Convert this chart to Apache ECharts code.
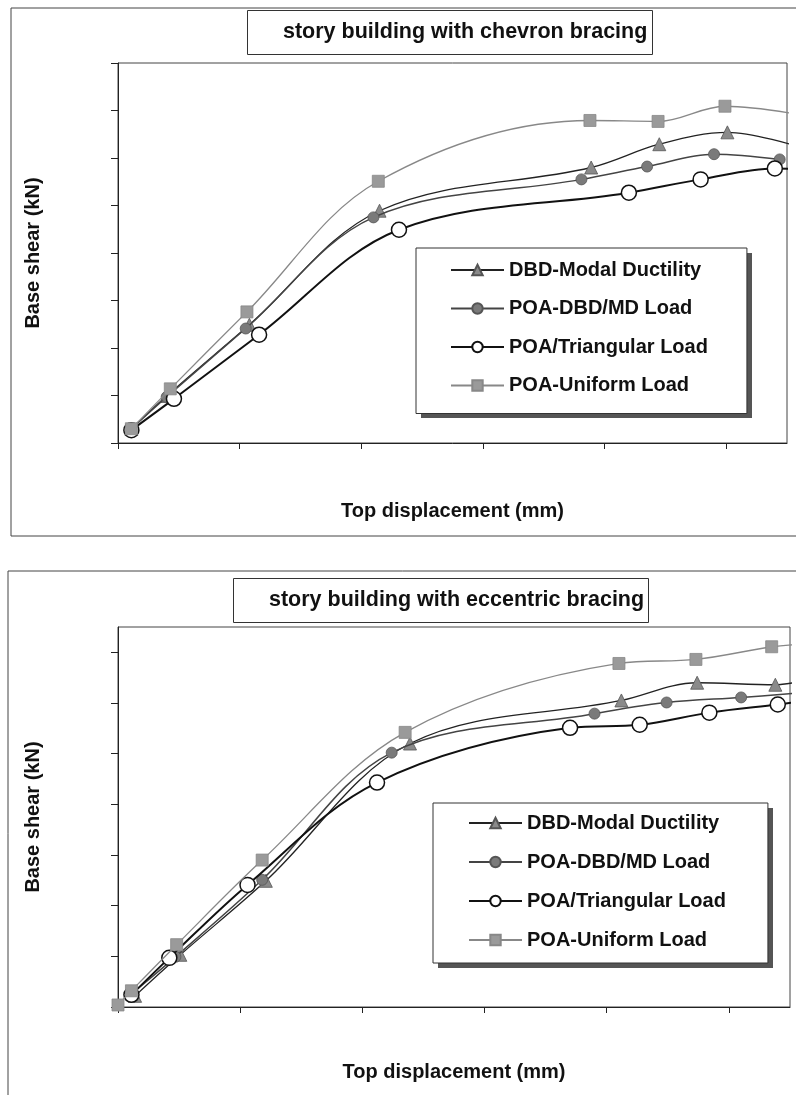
<!DOCTYPE html>
<html>
<head>
<meta charset="utf-8">
<title>Pushover curves</title>
<script src="https://cdn.jsdelivr.net/npm/echarts@6/dist/echarts.min.js"></script>
<style>
  html, body { margin: 0; padding: 0; background: #fff; }
  #chart { width: 796px; height: 1095px; }
</style>
</head>
<body>
<div id="chart"></div>
<script>
// series names (legend order)
const seriesNames = ['DBD-Modal Ductility', 'POA-DBD/MD Load', 'POA/Triangular Load', 'POA-Uniform Load'];

// chevron bracing: [top displacement, base shear] in tick units (no tick labels in source)
const chevronDbd = [[0.11, 0.30], [0.40, 0.99], [1.08, 2.49], [2.15, 4.89], [3.89, 5.80], [4.45, 6.29], [5.01, 6.54], [5.59, 6.24]];
const chevronMd = [[0.11, 0.30], [0.40, 0.97], [1.05, 2.41], [2.10, 4.75], [3.81, 5.55], [4.35, 5.82], [4.90, 6.08], [5.44, 5.97]];
const chevronTri = [[0.11, 0.27], [0.46, 0.93], [1.16, 2.28], [2.31, 4.49], [4.20, 5.27], [4.79, 5.55], [5.40, 5.78], [5.59, 5.76]];
const chevronUni = [[0.11, 0.30], [0.43, 1.14], [1.06, 2.76], [2.14, 5.51], [3.88, 6.79], [4.44, 6.77], [4.99, 7.09], [5.59, 6.92]];

// eccentric bracing
const eccentricDbd = [[0.14, 0.22], [0.51, 1.03], [1.21, 2.49], [2.39, 5.20], [4.12, 6.05], [4.74, 6.40], [5.38, 6.36], [5.53, 6.40]];
const eccentricMd = [[0.11, 0.26], [0.47, 0.99], [1.18, 2.51], [2.24, 5.02], [3.90, 5.79], [4.49, 6.01], [5.10, 6.11], [5.53, 6.19]];
const eccentricTri = [[0.11, 0.24], [0.42, 0.97], [1.06, 2.41], [2.12, 4.43], [3.70, 5.51], [4.27, 5.57], [4.84, 5.81], [5.40, 5.97], [5.53, 6.01]];
const eccentricUni = [[0.0, 0.04], [0.11, 0.32], [0.48, 1.23], [1.18, 2.90], [2.35, 5.42], [4.10, 6.78], [4.73, 6.86], [5.35, 7.11], [5.53, 7.15]];

const chartTitles = ['story building with chevron bracing', 'story building with eccentric bracing'];
const xName = 'Top displacement (mm)';
const yName = 'Base shear (kN)';
const xMax = 5.5;
const yMax = [8, 7.5];
const xTicks = [0, 1, 2, 3, 4, 5];
const yTicks = [[0, 1, 2, 3, 4, 5, 6, 7, 8], [0, 1, 2, 3, 4, 5, 6, 7]];

const font = "'Liberation Sans', Arial, sans-serif";

// look of each series, same order as seriesNames
const styles = [
  { symbol: 'triangle', symbolSize: 13, color: '#8a8a8a', border: '#555', line: '#222', width: 1.3 },
  { symbol: 'circle', symbolSize: 11, color: '#7a7a7a', border: '#555', line: '#444', width: 1.5 },
  { symbol: 'circle', symbolSize: 15, color: '#fff', border: '#111', line: '#111', width: 2 },
  { symbol: 'rect', symbolSize: 12, color: '#9a9a9a', border: '#888', line: '#888', width: 1.3 }
];

function buildSeries(sets, gridIndex) {
  return sets.map(function (pts, i) {
    const s = styles[i];
    return {
      name: seriesNames[i],
      type: 'line',
      xAxisIndex: gridIndex,
      yAxisIndex: gridIndex,
      smooth: 0.35,
      clip: false,
      symbol: s.symbol,
      symbolSize: s.symbolSize,
      showAllSymbol: true,
      itemStyle: { color: s.color, borderColor: s.border, borderWidth: i === 2 ? 1.5 : 0.8 },
      lineStyle: { color: s.line, width: s.width },
      // points past the axis end are only the line running out of the frame
      data: pts.map(function (p) {
        return p[0] > xMax ? { value: p, symbol: 'none' } : p;
      }),
      z: 3 + i
    };
  });
}

function axisPair(gridIndex) {
  const lineStyle = { color: '#222', width: 1 };
  return {
    x: {
      type: 'value', gridIndex: gridIndex, min: 0, max: xMax, interval: 1,
      axisLine: { show: true, onZero: false, lineStyle: lineStyle },
      axisTick: { show: true, length: 6, lineStyle: lineStyle, customValues: xTicks },
      axisLabel: { show: false },
      splitLine: { show: false },
      name: xName, nameLocation: 'middle', nameGap: gridIndex === 0 ? 58 : 55,
      nameTextStyle: { fontSize: 20, fontWeight: 'bold', color: '#111', fontFamily: font }
    },
    y: {
      type: 'value', gridIndex: gridIndex, min: 0, max: yMax[gridIndex], interval: 1,
      axisLine: { show: true, onZero: false, lineStyle: lineStyle },
      axisTick: { show: true, length: 7, lineStyle: lineStyle, customValues: yTicks[gridIndex] },
      axisLabel: { show: false },
      splitLine: { show: false },
      name: yName, nameLocation: 'middle', nameGap: 75,
      nameTextStyle: { fontSize: 20, fontWeight: 'bold', color: '#111', fontFamily: font }
    }
  };
}

const ax0 = axisPair(0);
const ax1 = axisPair(1);

const legendBase = {
  data: seriesNames,
  orient: 'vertical',
  itemWidth: 53,
  itemHeight: 13,
  backgroundColor: '#fff',
  borderColor: '#333',
  borderWidth: 1,
  selectedMode: false,
  z: 10,
  textStyle: { fontSize: 20, fontWeight: 'bold', color: '#111', fontFamily: font }
};

const titleBase = {
  borderColor: '#333',
  borderWidth: 1,
  textStyle: { fontSize: 21.5, fontWeight: 'bold', color: '#111', fontFamily: font }
};

const frameStyle = { fill: 'none', stroke: '#444', lineWidth: 1 };
const shadowStyle = { fill: '#555' };

const option = {
  animation: false,
  backgroundColor: '#fff',
  title: [
    Object.assign({ text: chartTitles[0], left: 247, top: 10, padding: [11, 5, 12, 36] }, titleBase),
    Object.assign({ text: chartTitles[1], left: 233, top: 578, padding: [11, 5, 12, 36] }, titleBase)
  ],
  legend: [
    Object.assign({ left: 416, top: 248, padding: [12, 39, 18, 34], itemGap: 18.5 }, legendBase),
    Object.assign({ left: 433, top: 803, padding: [10, 42, 13, 35], itemGap: 19 }, legendBase)
  ],
  grid: [
    { left: 118, top: 63, width: 669, height: 380, show: true, borderColor: '#444', borderWidth: 1, backgroundColor: 'transparent' },
    { left: 118, top: 627, width: 672, height: 380, show: true, borderColor: '#444', borderWidth: 1, backgroundColor: 'transparent' }
  ],
  xAxis: [ax0.x, ax1.x],
  yAxis: [ax0.y, ax1.y],
  // outer chart frames (both run off the right side) and the legend drop shadows
  graphic: [
    { type: 'rect', shape: { x: 11, y: 8, width: 800, height: 528 }, style: frameStyle, z: 0 },
    { type: 'rect', shape: { x: 8, y: 571, width: 800, height: 600 }, style: frameStyle, z: 0 },
    { type: 'rect', shape: { x: 421, y: 253, width: 331, height: 165 }, style: shadowStyle, z: 9 },
    { type: 'rect', shape: { x: 438, y: 808, width: 335, height: 160 }, style: shadowStyle, z: 9 }
  ],
  series: buildSeries([chevronDbd, chevronMd, chevronTri, chevronUni], 0)
    .concat(buildSeries([eccentricDbd, eccentricMd, eccentricTri, eccentricUni], 1))
};

const myChart = echarts.init(document.getElementById('chart'));
myChart.setOption(option);
</script>
</body>
</html>
